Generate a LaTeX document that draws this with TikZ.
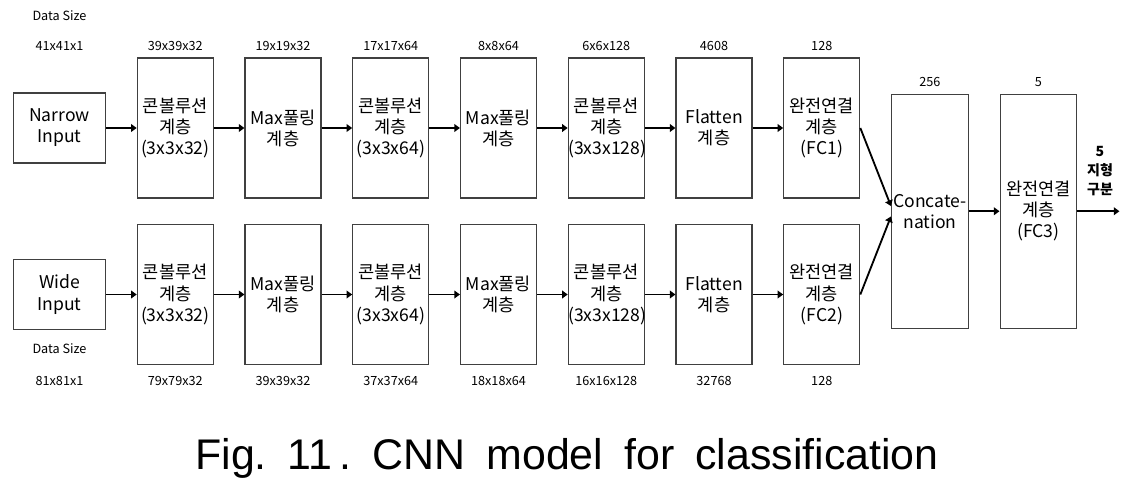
\documentclass[tikz,border=0pt]{standalone}
\usepackage{fontspec}
\setmainfont{Noto Sans CJK KR}
\newfontfamily\capfont{Liberation Sans}
\usetikzlibrary{arrows.meta,positioning,calc}

\tikzset{
  layer/.style={draw=black!75, line width=0.8pt, text width=1.9cm, minimum height=3.5cm,
    align=center, inner sep=0pt, font=\fontsize{12.5}{15}\selectfont},
  inbox/.style={layer, text width=2.3cm, minimum height=1.75cm},
  bigbox/.style={layer, text width=1.92cm, minimum height=5.85cm},
  size/.style={inner sep=1pt, font=\fontsize{9}{10}\selectfont},
  flow/.style={-{Triangle[length=4pt,width=5.5pt]}, line width=1.3pt},
}

\begin{document}
\begin{tikzpicture}[x=0.025cm, y=-0.025cm, node distance=0.765cm]
    \useasboundingbox (0,0) rectangle (1134,493);

    \node[inbox] (nin) at (59.5,128) {Narrow\\Input};
    \node[layer, right=of nin] (tc1) {콘볼루션\\계층\\(3x3x32)};
    \node[layer, right=of tc1] (tm1) {Max풀링\\계층};
    \node[layer, right=of tm1] (tc2) {콘볼루션\\계층\\(3x3x64)};
    \node[layer, right=of tc2] (tm2) {Max풀링\\계층};
    \node[layer, right=of tm2] (tc3) {콘볼루션\\계층\\(3x3x128)};
    \node[layer, right=of tc3] (tf) {Flatten\\계층};
    \node[layer, right=of tf] (tfc) {완전연결\\계층\\(FC1)};

    \node[inbox] (win) at (59.5,294.5) {Wide\\Input};
    \node[layer, right=of win] (bc1) {콘볼루션\\계층\\(3x3x32)};
    \node[layer, right=of bc1] (bm1) {Max풀링\\계층};
    \node[layer, right=of bm1] (bc2) {콘볼루션\\계층\\(3x3x64)};
    \node[layer, right=of bc2] (bm2) {Max풀링\\계층};
    \node[layer, right=of bm2] (bc3) {콘볼루션\\계층\\(3x3x128)};
    \node[layer, right=of bc3] (bf) {Flatten\\계층};
    \node[layer, right=of bf] (bfc) {완전연결\\계층\\(FC2)};

    \coordinate (mid) at ($(tfc.east)!0.5!(bfc.east)$);
    \node[bigbox, right=of mid] (concat) {Concate-\\nation};
    \node[bigbox, right=of concat] (fc3) {완전연결\\계층\\(FC3)};
    \coordinate[right=1.05cm of fc3.east] (out);
    \node[align=center, font=\bfseries\fontsize{10}{13.5}\selectfont] (res) at (1100,171) {5\\지형\\구분};

    \node[size] (tc1s) at ([yshift=0.275cm]tc1.north) {39x39x32};
    \node[size] (tm1s) at ([yshift=0.275cm]tm1.north) {19x19x32};
    \node[size] (tc2s) at ([yshift=0.275cm]tc2.north) {17x17x64};
    \node[size] (tm2s) at ([yshift=0.275cm]tm2.north) {8x8x64};
    \node[size] (tc3s) at ([yshift=0.275cm]tc3.north) {6x6x128};
    \node[size] (tfs) at ([yshift=0.275cm]tf.north) {4608};
    \node[size] (tfcs) at ([yshift=0.275cm]tfc.north) {128};
    \node[size] (nins) at (nin |- tc1s) {41x41x1};
    \node[size] (tds) at ([yshift=0.775cm]nins) {Data Size};

    \node[size] (bc1s) at ([yshift=-0.4cm]bc1.south) {79x79x32};
    \node[size] (bm1s) at ([yshift=-0.4cm]bm1.south) {39x39x32};
    \node[size] (bc2s) at ([yshift=-0.4cm]bc2.south) {37x37x64};
    \node[size] (bm2s) at ([yshift=-0.4cm]bm2.south) {18x18x64};
    \node[size] (bc3s) at ([yshift=-0.4cm]bc3.south) {16x16x128};
    \node[size] (bfs) at ([yshift=-0.4cm]bf.south) {32768};
    \node[size] (bfcs) at ([yshift=-0.4cm]bfc.south) {128};
    \node[size] (wins) at (win |- bc1s) {81x81x1};
    \node[size] (bds) at ([yshift=0.8cm]wins) {Data Size};

    \node[size] (concats) at ([yshift=0.3cm]concat.north) {256};
    \node[size] (fc3s) at ([yshift=0.3cm]fc3.north) {5};

    \draw[flow] (nin) -- (tc1);
    \draw[flow] (tc1) -- (tm1);
    \draw[flow] (tm1) -- (tc2);
    \draw[flow] (tc2) -- (tm2);
    \draw[flow] (tm2) -- (tc3);
    \draw[flow] (tc3) -- (tf);
    \draw[flow] (tf) -- (tfc);
    \draw[flow] (win) -- (bc1);
    \draw[flow] (bc1) -- (bm1);
    \draw[flow] (bm1) -- (bc2);
    \draw[flow] (bc2) -- (bm2);
    \draw[flow] (bm2) -- (bc3);
    \draw[flow] (bc3) -- (bf);
    \draw[flow] (bf) -- (bfc);
    \draw[flow] (tfc.east) -- ([yshift=0.13cm]concat.west);
    \draw[flow] (bfc.east) -- ([yshift=-0.13cm]concat.west);
    \draw[flow] (concat) -- (fc3);
    \draw[flow] (fc3) -- (out);

    \node[font=\capfont\fontsize{30.5}{36}\selectfont] (cap) at (567,458)
        {\frenchspacing\spaceskip=15pt\relax Fig. 11\kern5pt. CNN model for classification};
\end{tikzpicture}
\end{document}
